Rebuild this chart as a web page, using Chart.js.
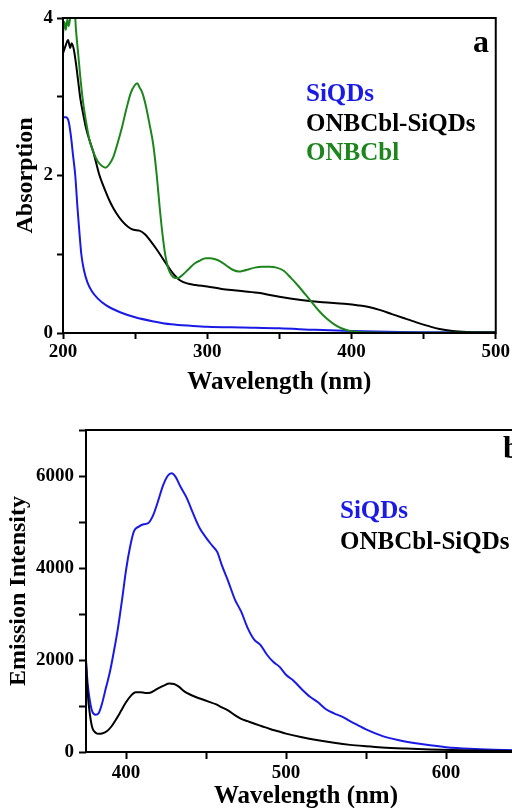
<!DOCTYPE html>
<html>
<head>
<meta charset="utf-8">
<script src="https://cdn.jsdelivr.net/npm/chart.js@4/dist/chart.umd.min.js"></script>
<style>
  html, body { margin: 0; padding: 0; background: #fff; overflow: hidden; width: 512px; height: 808px; }
  #panelA { position: absolute; left: 0; top: 0; }
  #panelB { position: absolute; left: 0; top: 400px; }
</style>
</head>
<body>
<canvas id="panelA" width="512" height="400"></canvas>
<canvas id="panelB" width="560" height="412"></canvas>
<script>
// ---- panel a: absorcion ----
const siqdsWl = [200, 202, 204, 205.5, 207, 208.5, 210, 211.5, 212.7, 214.5, 217, 220, 224, 230, 240, 250, 262, 275, 290, 300, 325, 350, 375, 400, 425, 450, 500];
const siqdsAbs = [2.74, 2.74, 2.68, 2.5, 2.25, 2.0, 1.6, 1.25, 1.0, 0.8, 0.64, 0.53, 0.44, 0.35, 0.26, 0.2, 0.15, 0.11, 0.09, 0.08, 0.07, 0.06, 0.04, 0.025, 0.015, 0.01, 0.01];

const conjWl = [200, 202, 203.5, 205, 206, 207.5, 209, 210.5, 212, 214, 216, 218.5, 221, 225, 229, 233, 237, 241, 245, 249, 253, 257, 261, 265, 269, 273, 277, 281, 286, 292, 300, 310, 320, 335, 350, 365, 380, 395, 405, 412, 420, 428, 436, 445, 453, 461, 470, 480, 490, 500];
const conjAbs = [3.55, 3.66, 3.72, 3.62, 3.68, 3.6, 3.42, 3.2, 2.98, 2.78, 2.6, 2.44, 2.3, 2.02, 1.82, 1.65, 1.52, 1.42, 1.35, 1.31, 1.30, 1.25, 1.16, 1.06, 0.95, 0.84, 0.74, 0.67, 0.63, 0.61, 0.59, 0.56, 0.54, 0.51, 0.46, 0.42, 0.39, 0.37, 0.35, 0.33, 0.29, 0.24, 0.19, 0.135, 0.09, 0.05, 0.025, 0.013, 0.01, 0.01];

const onbWl = [200, 201, 202, 203, 204, 205, 206, 207, 208, 209, 210.5, 212, 214, 216, 218, 221, 224, 227, 229.5, 232, 235, 238, 241, 244, 247, 249.5, 251.5, 253, 255, 257.5, 260, 262.5, 265, 267, 269, 271, 273, 275, 277.5, 280, 283, 287, 291, 295, 299, 302, 305, 309, 313, 318, 322, 325, 329, 333, 338, 343, 348, 353, 358, 363, 368, 373, 378, 383, 388, 393, 398, 405, 415, 430, 500];
const onbAbs = [3.8, 3.95, 3.85, 3.98, 3.9, 4.0, 4.05, 4.1, 4.1, 3.85, 3.55, 3.25, 2.92, 2.68, 2.48, 2.3, 2.18, 2.12, 2.1, 2.14, 2.24, 2.42, 2.62, 2.85, 3.05, 3.14, 3.17, 3.12, 3.05, 2.88, 2.65, 2.4, 2.0, 1.6, 1.25, 0.98, 0.82, 0.74, 0.70, 0.70, 0.74, 0.81, 0.88, 0.92, 0.95, 0.95, 0.94, 0.91, 0.86, 0.80, 0.78, 0.79, 0.81, 0.83, 0.84, 0.84, 0.83, 0.79, 0.70, 0.6, 0.49, 0.38, 0.27, 0.18, 0.11, 0.06, 0.03, 0.012, 0.005, 0.003, 0.003];

const absXTicks = [200, 250, 300, 350, 400, 450, 500];
const absXLabels = [200, 300, 400, 500];
const absYTicks = [0, 1, 2, 3, 4];
const absYLabels = [0, 2, 4];

// ---- panel b: emision ----
const emSiqdsWl = [375, 376, 377.5, 379, 381, 383, 385, 387.5, 390, 392.5, 395, 397.5, 400, 402.5, 405, 408, 411, 414, 417, 420, 423, 426, 428.5, 431, 434, 438, 442, 446, 450, 454, 457, 460, 464, 468, 472, 476, 480, 484, 488, 492, 496, 500, 505, 510, 515, 520, 525, 530, 535, 540, 545, 550, 560, 570, 580, 590, 600, 615, 630, 650];
const emSiqdsInt = [2000, 1500, 1100, 870, 810, 850, 1050, 1400, 1750, 2200, 2700, 3300, 3950, 4450, 4800, 4900, 4950, 4980, 5150, 5450, 5780, 6000, 6060, 5980, 5770, 5520, 5180, 4870, 4660, 4480, 4350, 4050, 3700, 3320, 3050, 2700, 2450, 2330, 2120, 1960, 1850, 1680, 1540, 1360, 1200, 1080, 930, 840, 770, 670, 580, 490, 350, 260, 195, 145, 105, 70, 50, 35];

const emConjWl = [375, 376, 377.5, 379, 381, 383, 385, 388, 391, 394, 397, 400, 403, 406, 409, 412, 415, 418, 421, 424, 427, 430, 433, 436, 440, 444, 448, 452, 456, 460, 464, 468, 472, 476, 480, 485, 490, 495, 500, 510, 520, 530, 540, 550, 560, 575, 590, 610, 630, 650];
const emConjInt = [1950, 1300, 800, 520, 420, 395, 400, 450, 560, 720, 900, 1080, 1220, 1300, 1300, 1285, 1290, 1340, 1400, 1450, 1490, 1480, 1420, 1330, 1250, 1190, 1140, 1090, 1040, 970, 900, 800, 720, 670, 620, 560, 500, 450, 400, 320, 255, 200, 155, 125, 100, 75, 55, 38, 28, 20];

const emXTicks = [400, 450, 500, 550, 600, 650];
const emXLabels = [400, 500, 600];
const emYTicks = [0, 1000, 2000, 3000, 4000, 5000, 6000, 7000];
const emYLabels = [0, 2000, 4000, 6000];

const serif = "'Liberation Serif', 'Times New Roman', serif";
const AZUL = '#1a1ae6';
const VERDE = '#1c861c';
const NEGRO = '#000000';

function puntos(xs, ys) {
  return xs.map((x, i) => ({ x: x, y: ys[i] }));
}

function serie(etiqueta, xs, ys, color) {
  return {
    label: etiqueta,
    data: puntos(xs, ys),
    borderColor: color,
    borderWidth: 2,
    pointRadius: 0,
    cubicInterpolationMode: 'monotone',
    fill: false
  };
}

// marco, leyenda de texto y letra del panel
const marco = {
  id: 'marco',
  afterDatasetsDraw(chart, args, o) {
    const { ctx, chartArea: a } = chart;
    ctx.save();
    ctx.strokeStyle = '#000';
    ctx.lineWidth = 2;
    ctx.strokeRect(a.left, a.top, a.right - a.left, a.bottom - a.top);
    ctx.font = `bold ${o.size}px ${serif}`;
    ctx.textAlign = 'left';
    ctx.textBaseline = 'alphabetic';
    o.textos.forEach((t, i) => {
      ctx.fillStyle = o.colores[i];
      ctx.fillText(t, o.x, o.y[i]);
    });
    ctx.font = `bold 32px ${serif}`;
    ctx.fillStyle = '#000';
    ctx.textAlign = o.letraAlign;
    ctx.fillText(o.letra, o.letraX, o.letraY);
    ctx.restore();
  }
};

function ejes(c) {
  return {
    x: {
      type: 'linear',
      min: c.xMin,
      max: c.xMax,
      afterFit: s => { s.height = c.xAlto; },
      afterBuildTicks: s => { s.ticks = c.xTicks.map(v => ({ value: v })); },
      ticks: {
        autoSkip: false,
        maxRotation: 0,
        padding: c.xPad,
        color: '#000',
        font: { family: serif, size: 19, weight: 'bold' },
        callback: v => c.xLabels.includes(v) ? String(v) : ''
      },
      grid: { drawOnChartArea: false, tickLength: c.tick, tickColor: '#000', tickWidth: 2 },
      border: { display: false },
      title: {
        display: true,
        text: 'Wavelength (nm)',
        color: '#000',
        font: { family: serif, size: 25, weight: 'bold' },
        padding: { top: 0, bottom: c.xTitPad }
      }
    },
    y: {
      type: 'linear',
      min: c.yMin,
      max: c.yMax,
      afterFit: s => { s.width = c.yAncho; },
      afterBuildTicks: s => { s.ticks = c.yTicks.map(v => ({ value: v })); },
      ticks: {
        autoSkip: false,
        padding: c.yPad,
        color: '#000',
        font: { family: serif, size: 19, weight: 'bold' },
        callback: v => c.yLabels.includes(v) ? String(v) : ''
      },
      grid: { drawOnChartArea: false, tickLength: c.tick, tickColor: '#000', tickWidth: 2 },
      border: { display: false },
      title: {
        display: true,
        text: c.yTitulo,
        color: '#000',
        font: { family: serif, size: 24, weight: 'bold' },
        padding: { top: c.yTitPad, bottom: 0 }
      }
    }
  };
}

new Chart(document.getElementById('panelA'), {
  type: 'line',
  data: {
    datasets: [
      serie('ONBCbl', onbWl, onbAbs, VERDE),
      serie('ONBCbl-SiQDs', conjWl, conjAbs, NEGRO),
      serie('SiQDs', siqdsWl, siqdsAbs, AZUL)
    ]
  },
  options: {
    responsive: false,
    animation: false,
    layout: { padding: { left: 0, right: 16, top: 18, bottom: 0 } },
    scales: ejes({
      xMin: 200, xMax: 500, xTicks: absXTicks, xLabels: absXLabels, xAlto: 67, xPad: 2, xTitPad: 2,
      yMin: 0, yMax: 4, yTicks: absYTicks, yLabels: absYLabels, yAncho: 63, yPad: 4, yTitPad: 11,
      yTitulo: 'Absorption', tick: 6
    }),
    plugins: {
      legend: { display: false },
      tooltip: { enabled: false },
      marco: {
        size: 25, x: 306, y: [101, 131, 160],
        textos: ['SiQDs', 'ONBCbl-SiQDs', 'ONBCbl'],
        colores: [AZUL, NEGRO, VERDE],
        letra: 'a', letraX: 489, letraY: 52, letraAlign: 'right'
      }
    }
  },
  plugins: [marco]
});

new Chart(document.getElementById('panelB'), {
  type: 'line',
  data: {
    datasets: [
      serie('ONBCbl-SiQDs', emConjWl, emConjInt, NEGRO),
      serie('SiQDs', emSiqdsWl, emSiqdsInt, AZUL)
    ]
  },
  options: {
    responsive: false,
    animation: false,
    layout: { padding: { left: 0, right: 34, top: 30, bottom: 0 } },
    scales: ejes({
      xMin: 375, xMax: 650, xTicks: emXTicks, xLabels: emXLabels, xAlto: 60, xPad: 3, xTitPad: 0,
      yMin: 0, yMax: 7000, yTicks: emYTicks, yLabels: emYLabels, yAncho: 86, yPad: 5, yTitPad: 4,
      yTitulo: 'Emission Intensity', tick: 7
    }),
    plugins: {
      legend: { display: false },
      tooltip: { enabled: false },
      marco: {
        size: 25, x: 340, y: [118, 149],
        textos: ['SiQDs', 'ONBCbl-SiQDs'],
        colores: [AZUL, NEGRO],
        letra: 'b', letraX: 503, letraY: 58, letraAlign: 'left'
      }
    }
  },
  plugins: [marco]
});
</script>
</body>
</html>
